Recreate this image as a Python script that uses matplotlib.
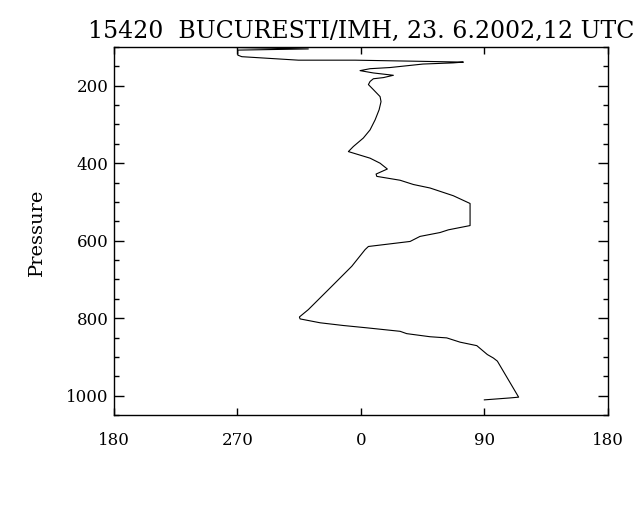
import matplotlib
matplotlib.use("Agg")
import matplotlib.pyplot as plt
from matplotlib.ticker import MultipleLocator, FixedLocator
import numpy as np

# Wind direction (deg) vs pressure (hPa), surface upward
direction = [90, 108.7, 115, 99.5, 96.6, 92.2, 84.5, 72.3, 62.6, 50.4, 33.4, 28.6,
             4.3, 347.2, 330.3, 315.7, 315.2, 321.7, 337.6, 353.4, 3.1, 5.5, 35.9,
             43.1, 57.7, 63.8, 79.6, 79.6, 67.4, 50.4, 38.3, 28.6, 11.6, 11.1, 19.3,
             14, 6.7, 350.9, 354.5, 1.8, 6.7, 10.4, 13.3, 14.7, 14, 9.1, 5.5, 6.7,
             9.1, 16.4, 23.7, 9.1, 359.4, 6.7, 21.3, 45.3, 67.2, 74.7, 44.4, 355.8,
             314.5, 273.2, 270.3, 270.3, 321.7, 264.7, 263.2]
pressure = [1011, 1006, 1004, 911, 903, 894, 871, 862, 851, 848, 840, 834,
            825, 819, 812, 802, 797, 778, 722, 666, 623, 615, 602,
            589, 579, 572, 561, 504, 484, 464, 455, 444, 434, 428, 415,
            400, 387, 370, 357, 335, 314, 288, 262, 241, 228, 210, 197, 189,
            182, 179, 173, 167, 161, 156, 153, 144, 141, 139, 137, 134,
            134, 125, 121, 108, 105, 101, 100]

xtick_pos = [-180, -90, 0, 90, 180]
xtick_labels = ["180", "270", "0", "90", "180"]
ytick_major = [200, 400, 600, 800, 1000]
title = "15420  BUCURESTI/IMH, 23. 6.2002,12 UTC"

x = ((np.array(direction) + 180) % 360) - 180

plt.rcParams['font.family'] = ['DejaVu Serif']
fig = plt.figure(figsize=(6.4, 5.12), dpi=100)
ax = fig.add_axes([0.178, 0.1895, 0.7717, 0.7187])
ax.plot(x, pressure, color='black', lw=0.8)

ax.set_xlim(-180, 180)
ax.set_ylim(1050, 100)
ax.xaxis.set_major_locator(FixedLocator(xtick_pos))
ax.set_xticklabels(xtick_labels)
ax.yaxis.set_major_locator(FixedLocator(ytick_major))
ax.yaxis.set_minor_locator(MultipleLocator(50))

ax.tick_params(axis='x', which='major', direction='in', length=5.3, width=1,
               top=True, bottom=True, labelsize=12, pad=12)
ax.tick_params(axis='y', which='major', direction='in', length=7.2, width=1,
               left=True, right=True, labelsize=12, pad=4)
ax.tick_params(axis='y', which='minor', direction='in', length=3.6, width=1,
               left=True, right=True)
for s in ax.spines.values():
    s.set_linewidth(1.0)

fig.text(361 / 640, 1 - 38 / 512, title, ha='center', va='baseline', fontsize=17)
fig.text(37 / 640, 1 - 232 / 512, "Pressure", ha='center', va='center',
         rotation=90, fontsize=14)

fig.savefig("out.png", dpi=100, facecolor='white')
